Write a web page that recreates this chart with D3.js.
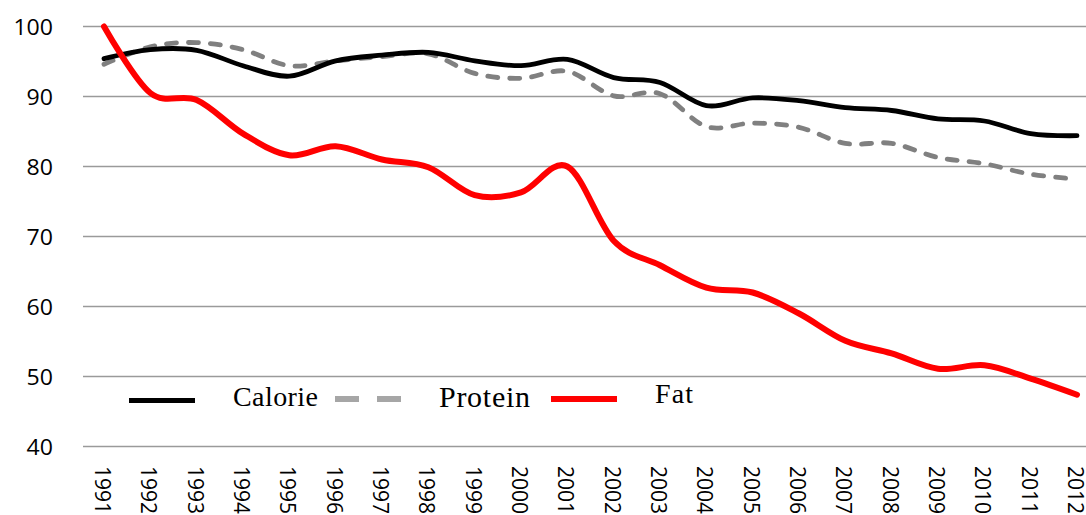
<!DOCTYPE html>
<html>
<head>
<meta charset="utf-8">
<script src="https://cdn.jsdelivr.net/npm/d3@7"></script>
<style>
  body { margin: 0; background: #fff; }
  svg { display: block; }
  .axis-label { font-family: "Open Sans", "Liberation Sans", sans-serif; fill: #000; }
  .legend-label { font-family: "Liberation Serif", "Times New Roman", serif; fill: #000; }
</style>
</head>
<body>
<div class="chart"></div>
<script>
const years = d3.range(1991, 2013);
const yTicks = [40, 50, 60, 70, 80, 90, 100];

const calorie = [95.4, 96.7, 96.6, 94.4, 92.9, 95.1, 95.9, 96.3, 95.1, 94.4, 95.3, 92.7,
  92.0, 88.7, 89.8, 89.4, 88.4, 88.0, 86.8, 86.5, 84.7, 84.4];
const protein = [94.6, 97.1, 97.7, 96.7, 94.4, 95.1, 95.7, 96.1, 93.3, 92.6, 93.6, 90.1,
  90.4, 85.7, 86.2, 85.6, 83.3, 83.3, 81.3, 80.4, 78.9, 78.2];
const fat = [100, 90.5, 89.5, 84.7, 81.6, 82.9, 81.0, 79.9, 75.9, 76.3, 80.0, 69.4,
  65.9, 62.7, 62.0, 59.0, 55.1, 53.3, 51.1, 51.6, 49.7, 47.4];

const seriesNames = ["Calorie", "Protein", "Fat"];

const width = 1086;
const height = 515;

const svg = d3.select(".chart")
  .append("svg")
  .attr("width", width)
  .attr("height", height);

const x = d3.scalePoint().domain(years).range([104, 1077]);
const y = d3.scaleLinear().domain([40, 100]).range([446.5, 26.5]);

// horizontal grid lines
svg.append("g")
  .selectAll("line")
  .data(yTicks)
  .enter()
  .append("line")
  .attr("x1", 83)
  .attr("x2", 1100)
  .attr("y1", (d) => y(d))
  .attr("y2", (d) => y(d))
  .attr("stroke", "#9a9a9a")
  .attr("stroke-width", 1.6);

// y labels
svg.append("g")
  .selectAll("text")
  .data(yTicks)
  .enter()
  .append("text")
  .attr("class", "axis-label")
  .attr("transform", (d) => `translate(53, ${y(d)}) scale(1.1, 1)`)
  .attr("text-anchor", "end")
  .attr("dominant-baseline", "central")
  .style("font-size", "21px")
  .text((d) => d);

// x labels, turned to read downward
svg.append("g")
  .selectAll("text")
  .data(years)
  .enter()
  .append("text")
  .attr("class", "axis-label")
  .attr("transform", (d) => `translate(${x(d) - 1}, 466) rotate(90)`)
  .attr("text-anchor", "start")
  .attr("dominant-baseline", "central")
  .style("font-size", "21px")
  .text((d) => d);

const line = d3.line()
  .x((d, i) => x(years[i]))
  .y((d) => y(d))
  .curve(d3.curveCardinal.tension(0));

svg.append("path")
  .attr("d", line(protein))
  .attr("fill", "none")
  .attr("stroke", "#808080")
  .attr("stroke-width", 4.8)
  .attr("stroke-dasharray", "10,12")
  .attr("stroke-linecap", "round");

svg.append("path")
  .attr("d", line(calorie))
  .attr("fill", "none")
  .attr("stroke", "#000")
  .attr("stroke-width", 4.8)
  .attr("stroke-linecap", "round");

svg.append("path")
  .attr("d", line(fat))
  .attr("fill", "none")
  .attr("stroke", "#ff0000")
  .attr("stroke-width", 6)
  .attr("stroke-linecap", "round");

// legend
const legend = svg.append("g");

legend.append("line")
  .attr("x1", 129).attr("x2", 195)
  .attr("y1", 400.5).attr("y2", 400.5)
  .attr("stroke", "#000")
  .attr("stroke-width", 5);

legend.append("line")
  .attr("x1", 335).attr("x2", 401)
  .attr("y1", 399).attr("y2", 399)
  .attr("stroke", "#a6a6a6")
  .attr("stroke-width", 6)
  .attr("stroke-dasharray", "24,18");

legend.append("line")
  .attr("x1", 551).attr("x2", 617)
  .attr("y1", 399).attr("y2", 399)
  .attr("stroke", "#ff0000")
  .attr("stroke-width", 6);

legend.append("text")
  .attr("class", "legend-label")
  .attr("x", 233).attr("y", 406)
  .style("font-size", "28px")
  .attr("textLength", 85)
  .text(seriesNames[0]);

legend.append("text")
  .attr("class", "legend-label")
  .attr("x", 439).attr("y", 407)
  .style("font-size", "30px")
  .attr("textLength", 91)
  .text(seriesNames[1]);

legend.append("text")
  .attr("class", "legend-label")
  .attr("x", 655).attr("y", 403)
  .style("font-size", "28px")
  .attr("textLength", 38)
  .text(seriesNames[2]);
</script>
</body>
</html>
